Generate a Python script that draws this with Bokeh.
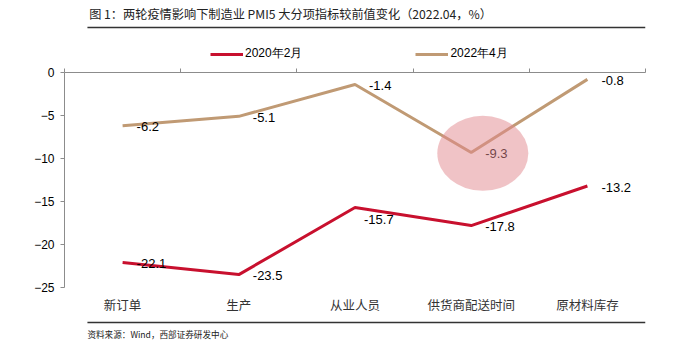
from bokeh.plotting import figure
from bokeh.layouts import column
from bokeh.models import (Range1d, FixedTicker, LinearAxis, Legend, LegendItem,
                          ColumnDataSource)
from bokeh.embed import file_html
from bokeh.resources import INLINE
from bokeh.core.properties import value

# ---- data ----
categories = ["新订单", "生产", "从业人员", "供货商配送时间", "原材料库存"]
series_names = ["2020年2月", "2022年4月"]
values_2020_02 = [-22.1, -23.5, -15.7, -17.8, -13.2]
values_2022_04 = [-6.2, -5.1, -1.4, -9.3, -0.8]
y_ticks = [0, -5, -10, -15, -20, -25]
highlight_index = 3  # 供货商配送时间, 2022年4月
title_text = "图 1：两轮疫情影响下制造业 PMI5 大分项指标较前值变化（2022.04，%）"
source_text = "资料来源：Wind，西部证券研发中心"

# ---- label placement (screen px) ----
label_dx_a = [14, 14, 9, 14, 14]
label_dy_a = [1, 1, 12, 1, 1]
label_dx_b = [14, 14, 14, 14, 14]
label_dy_b = [1, 1, 1, 1, 1]

# ---- layout (page pixels) ----
W = 684
HEADER_H = 64
FOOTER_H = 43
MAIN_H = 359 - HEADER_H - FOOTER_H
FRAME_LEFT, FRAME_RIGHT, FRAME_TOP, FRAME_BOTTOM = 64, 645, 72, 288

RED = "#c8102e"
TAN = "#c09a74"
AXIS = "#8c8c8c"
RULE = "#333333"
CJK = "Noto Sans CJK SC"


def blank_figure(h):
    f = figure(width=W, height=h, output_backend="svg", toolbar_location=None,
               x_range=Range1d(0, W), y_range=Range1d(h, 0), min_border=0,
               x_axis_location=None, y_axis_location=None)
    f.outline_line_color = None
    for g in f.grid:
        g.visible = False
    return f


src = ColumnDataSource(dict(
    x=list(range(len(categories))),
    a=values_2020_02, b=values_2022_04,
    la=[f"{v:.1f}" for v in values_2020_02],
    lb=[f"{v:.1f}" for v in values_2022_04],
    dxa=label_dx_a, dya=label_dy_a, dxb=label_dx_b, dyb=label_dy_b,
))

# ---- header: title, rule, legend ----
hdr = blank_figure(HEADER_H)
hdr.text(x=[29], y=[13], text=[title_text], text_baseline="middle", text_align="left",
         text_font=value(CJK), text_font_size="12.2px", text_color="#222222")
hdr.segment(x0=[27], y0=[27], x1=[W], y1=[27], line_color=RULE, line_width=1.5)
k1 = hdr.line("x", "a", source=src, line_color=RED, line_width=3, visible=False)
k2 = hdr.line("x", "b", source=src, line_color=TAN, line_width=3, visible=False)
legend = Legend(items=[LegendItem(label=series_names[0], renderers=[k1]),
                       LegendItem(label=series_names[1], renderers=[k2])],
                orientation="horizontal", location=(146, HEADER_H - 62),
                glyph_width=33, glyph_height=16, label_height=16, label_standoff=2,
                spacing=113, padding=0, margin=0, border_line_color=None,
                background_fill_alpha=0, inactive_fill_alpha=0,
                label_text_font="Liberation Sans",
                label_text_font_size="12px", label_text_color="#000000")
hdr.add_layout(legend, "center")

# ---- main chart ----
p = figure(width=W, height=MAIN_H, output_backend="svg", toolbar_location=None,
           x_range=Range1d(-0.5, len(categories) - 0.5), y_range=Range1d(-25, 0),
           min_border_left=FRAME_LEFT, min_border_right=W - FRAME_RIGHT,
           min_border_top=FRAME_TOP - HEADER_H,
           min_border_bottom=HEADER_H + MAIN_H - FRAME_BOTTOM,
           x_axis_location=None, y_axis_location=None)
p.outline_line_color = None
for g in p.grid:
    g.visible = False

ya = LinearAxis(ticker=FixedTicker(ticks=y_ticks), axis_line_color=AXIS,
                major_tick_line_color=AXIS, major_tick_in=0, major_tick_out=4,
                minor_tick_line_color=None, major_label_text_font="Liberation Sans",
                major_label_text_font_size="12px", major_label_text_color="#000000",
                major_label_standoff=6)
p.add_layout(ya, "left")

boundaries = [i - 0.5 for i in range(len(categories) + 1)]
ta = LinearAxis(ticker=FixedTicker(ticks=boundaries), axis_line_color=AXIS,
                major_tick_line_color=AXIS, major_tick_in=0, major_tick_out=4,
                minor_tick_line_color=None, major_label_text_color=None,
                major_label_standoff=0, major_label_text_font_size="1px")
p.add_layout(ta, "above")

ba = LinearAxis(ticker=FixedTicker(ticks=list(range(len(categories)))),
                major_label_overrides={i: c for i, c in enumerate(categories)},
                axis_line_color=None, major_tick_line_color=None, minor_tick_line_color=None,
                major_tick_in=0, major_tick_out=0, major_label_standoff=7,
                major_label_text_font=CJK, major_label_text_font_size="12.5px",
                major_label_text_color="#333333")
p.add_layout(ba, "below")

p.line("x", "a", source=src, line_color=RED, line_width=3)
p.line("x", "b", source=src, line_color=TAN, line_width=3)
for ycol, tcol, dx, dy in (("a", "la", "dxa", "dya"), ("b", "lb", "dxb", "dyb")):
    p.text("x", ycol, text=tcol, source=src, x_offset=dx, y_offset=dy,
           text_baseline="middle", text_align="left",
           text_font=value("Liberation Sans"), text_font_size="13px", text_color="#000000")

p.ellipse(x=[highlight_index + 0.1], y=[values_2022_04[highlight_index] - 0.1],
          width=91, height=75, width_units="screen", height_units="screen",
          fill_color="#e1878d", fill_alpha=0.5, line_color=None)

# ---- footer: rule and source ----
ftr = blank_figure(FOOTER_H)
ftr.segment(x0=[27], y0=[6], x1=[W], y1=[6], line_color=RULE, line_width=1.5)
ftr.text(x=[27], y=[17], text=[source_text], text_baseline="middle", text_align="left",
         text_font=value(CJK), text_font_size="8.6px", text_color="#222222")

layout = column(hdr, p, ftr, spacing=0)
open("out.html", "w").write(file_html(layout, INLINE))
